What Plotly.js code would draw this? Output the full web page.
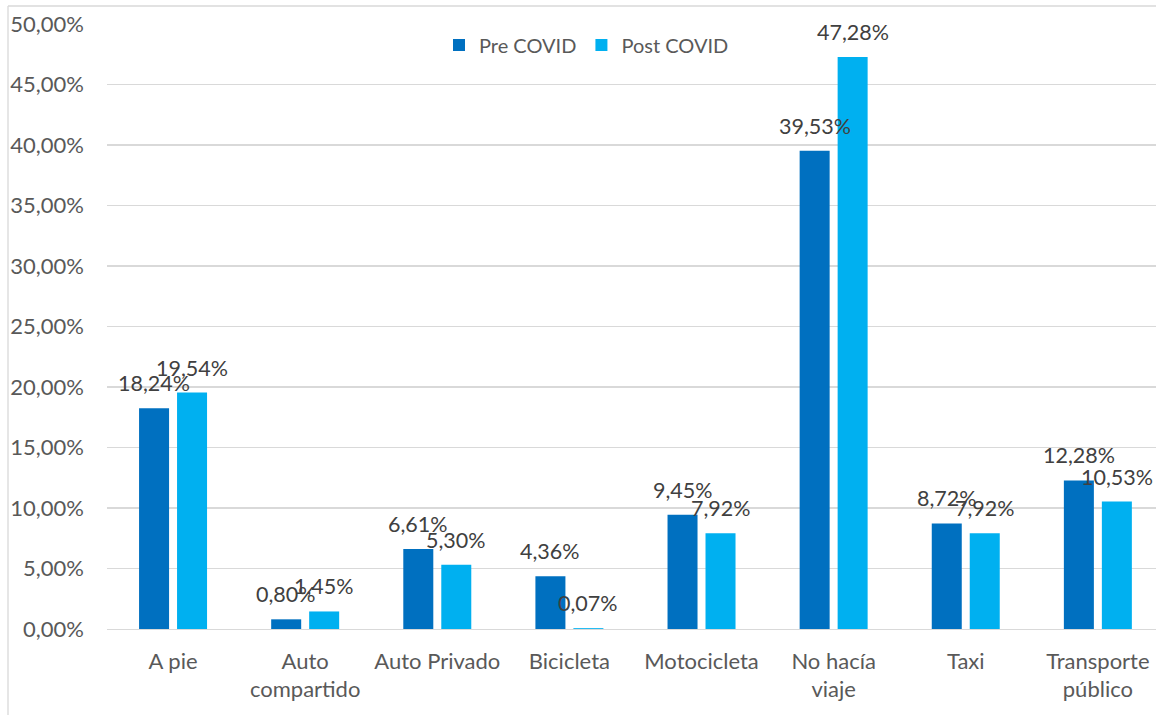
<!DOCTYPE html>
<html>
<head>
<meta charset="utf-8">
<script src="https://cdn.plot.ly/plotly-3.0.1.min.js"></script>
<style>
html,body{margin:0;padding:0;background:#fff;overflow:hidden;}
#chart{width:1156px;height:715px;}
</style>
</head>
<body>
<div id="chart"></div>
<script>
const categories = ["A pie", "Auto<br>compartido", "Auto Privado", "Bicicleta", "Motocicleta", "No hacía<br>viaje", "Taxi", "Transporte<br>público"];
const preCovid = [18.24, 0.80, 6.61, 4.36, 9.45, 39.53, 8.72, 12.28];
const postCovid = [19.54, 1.45, 5.30, 0.07, 7.92, 47.28, 7.92, 10.53];
const seriesNames = ["Pre COVID", "Post COVID"];
const yTicks = [0, 5, 10, 15, 20, 25, 30, 35, 40, 45, 50];

const FONT = "Lato, 'Open Sans', sans-serif";
const fmt = v => v.toFixed(2).replace('.', ',') + '%';

const traces = [
  {type: 'bar', name: seriesNames[0], x: categories, y: preCovid, marker: {color: '#0070C0'}, hoverinfo: 'none'},
  {type: 'bar', name: seriesNames[1], x: categories, y: postCovid, marker: {color: '#00B0F0'}, hoverinfo: 'none'}
];

const annotations = [];
[[preCovid, -19], [postCovid, 19]].forEach(([vals, dx]) => {
  vals.forEach((v, i) => {
    annotations.push({
      x: categories[i], y: v, xref: 'x', yref: 'y',
      text: fmt(v), showarrow: false,
      xshift: dx, yshift: 25, yanchor: 'middle', xanchor: 'center',
      font: {family: FONT, size: 21.5, color: '#404040'}
    });
  });
});

const W = 1156, ML = 107, PW = W - ML, PH = 715 - 24 - 86;

const layout = {
  width: 1156, height: 715,
  margin: {l: ML, r: 0, t: 24, b: 86},
  paper_bgcolor: '#fff', plot_bgcolor: '#fff',
  separators: ',.',
  barmode: 'group', bargap: 0.425, bargroupgap: 0.21,
  showlegend: true,
  legend: {orientation: 'h', x: (439 - ML) / PW, xanchor: 'left', y: (629 - 45) / PH, yanchor: 'middle',
    font: {family: FONT, size: 20, color: '#595959'}, bgcolor: 'rgba(0,0,0,0)'},
  xaxis: {
    type: 'category', range: [-0.5, 7.44],
    showgrid: false, zeroline: false,
    showline: true, linecolor: '#d9d9d9', linewidth: 1.3,
    ticks: '', ticklabelstandoff: 12,
    tickfont: {family: FONT, size: 22, color: '#595959'},
    fixedrange: true
  },
  yaxis: {
    range: [0, 50], tickvals: yTicks, ticktext: yTicks.map(fmt),
    showgrid: true, gridcolor: '#d9d9d9', gridwidth: 1.3,
    zeroline: false, showline: false, ticks: '',
    ticklabelstandoff: 22,
    tickfont: {family: FONT, size: 22, color: '#595959'},
    fixedrange: true
  },
  annotations: annotations,
  shapes: [
    {type: 'line', xref: 'paper', yref: 'paper', x0: (8 - ML) / PW, x1: 1.05, y0: (629 - 6) / PH, y1: (629 - 6) / PH,
      line: {color: '#d9d9d9', width: 1.3}},
    {type: 'line', xref: 'paper', yref: 'paper', x0: (8 - ML) / PW, x1: (8 - ML) / PW, y0: (629 - 6) / PH, y1: -0.2,
      line: {color: '#d9d9d9', width: 1.3}}
  ]
};

Plotly.newPlot('chart', traces, layout, {displayModeBar: false, staticPlot: true});
</script>
</body>
</html>
